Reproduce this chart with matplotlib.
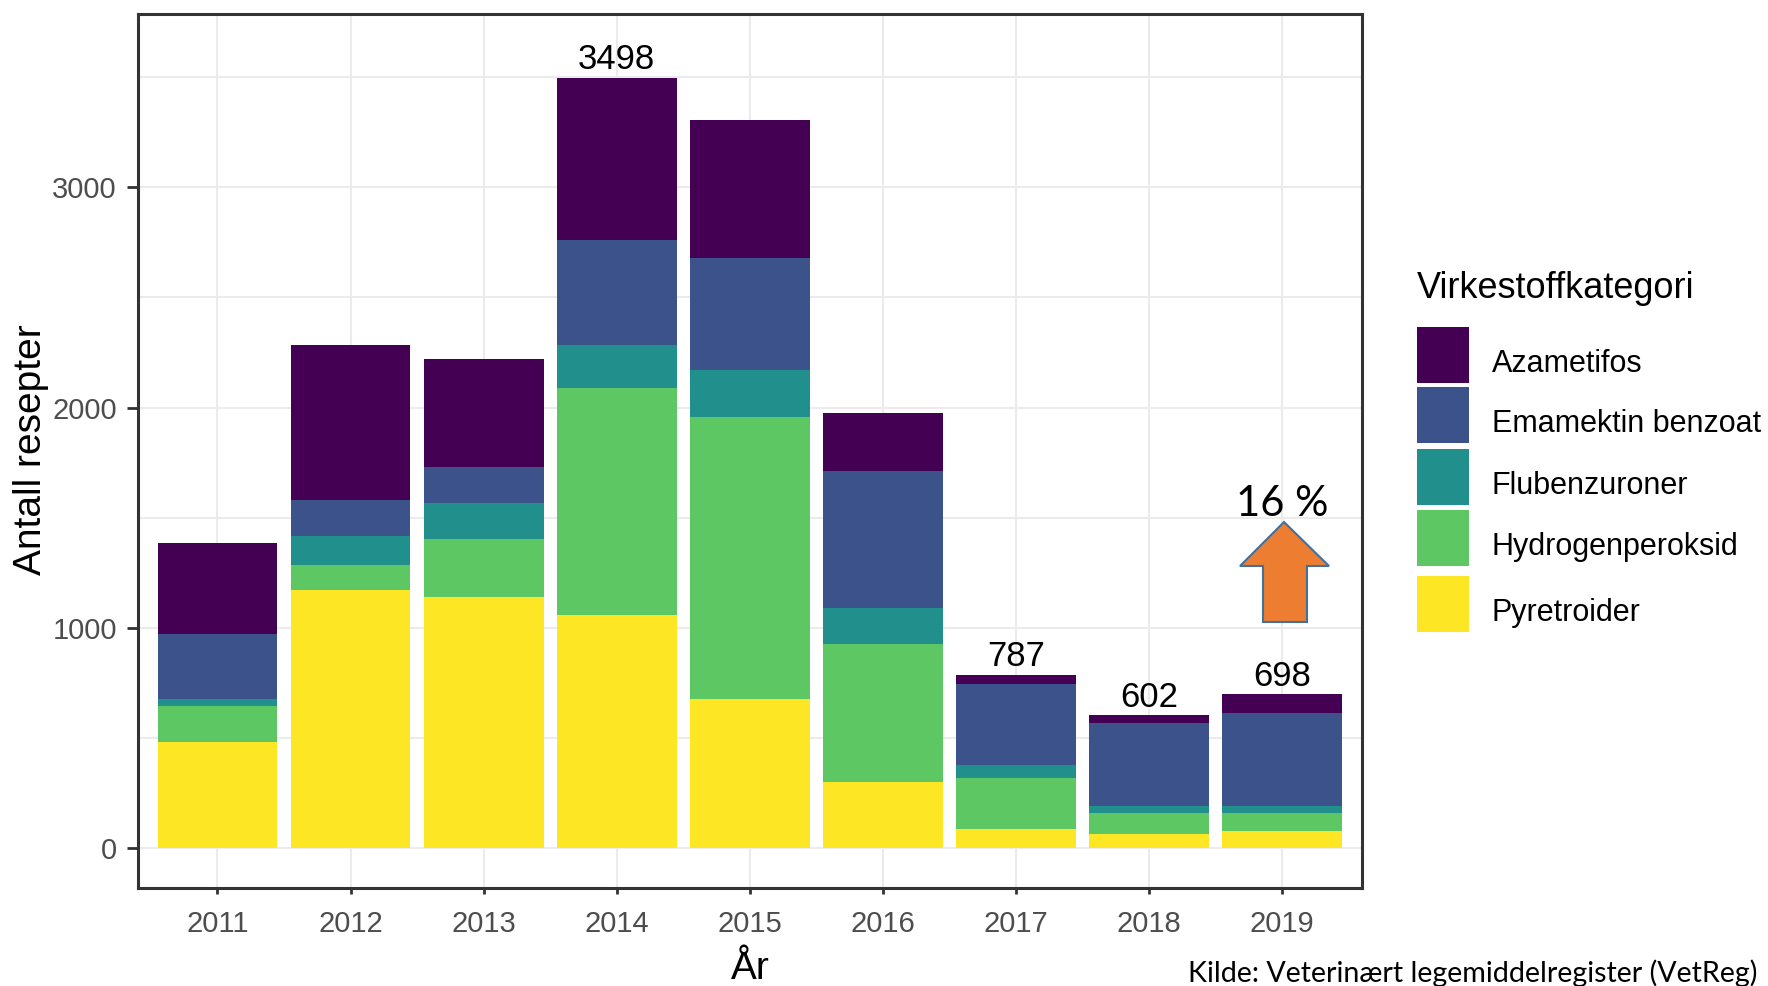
import matplotlib
matplotlib.use("Agg")
import matplotlib.pyplot as plt
from matplotlib.patches import Rectangle, Polygon
import numpy as np

# ---- data ----
years = ["2011", "2012", "2013", "2014", "2015", "2016", "2017", "2018", "2019"]
categories = ["Azametifos", "Emamektin benzoat", "Flubenzuroner", "Hydrogenperoksid", "Pyretroider"]
pyretroider = [483, 1170, 1139, 1057, 678, 302, 85, 63, 78]
hydrogenperoksid = [162, 115, 263, 1032, 1280, 624, 231, 97, 82]
flubenzuroner = [33, 130, 163, 195, 213, 164, 63, 30, 31]
emamektin_benzoat = [294, 164, 163, 476, 507, 621, 366, 379, 420]
azametifos = [412, 706, 493, 738, 626, 262, 42, 33, 87]
labelled_years = ["2014", "2017", "2018", "2019"]
colors = ["#440154", "#3B528B", "#21908C", "#5DC863", "#FDE725"]
y_ticks = [0, 1000, 2000, 3000]
change_text = "16 %"
source_text = "Kilde: Veterinært legemiddelregister (VetReg)"

W, H = 1768, 986
fig = plt.figure(figsize=(W / 100, H / 100), dpi=100)
fig.patch.set_facecolor("white")

def fx(px):
    return px / W

def fy(py):
    return 1 - py / H

ax = fig.add_axes([fx(137.6), fy(887.5), fx(1362) - fx(137.6), fy(13.5) - fy(887.5)])

FONT = "Liberation Sans"
x = np.arange(len(years))
stack_bottom_to_top = [pyretroider, hydrogenperoksid, flubenzuroner, emamektin_benzoat, azametifos]
stack_colors = colors[::-1]
bottom = np.zeros(len(years))
for vals, col in zip(stack_bottom_to_top, stack_colors):
    vals = np.array(vals, dtype=float)
    ax.bar(x, vals, width=0.9, bottom=bottom, color=col, linewidth=0, zorder=2)
    bottom += vals
totals = bottom

for i, yr in enumerate(years):
    if yr in labelled_years:
        ax.annotate(f"{int(round(totals[i]))}", (x[i], totals[i]), xytext=(0, 1),
                    textcoords="offset points", ha="center", va="bottom",
                    fontsize=25, family=FONT, color="black", zorder=3)

ax.set_xlim(-0.6, len(years) - 1 + 0.6)
ax.set_ylim(-179, 3789)
ax.set_xticks(x)
ax.set_xticklabels(years)
ax.set_yticks(y_ticks)
ax.set_yticks([500, 1500, 2500, 3500], minor=True)
ax.grid(True, which="major", color="#EBEBEB", linewidth=1.5, zorder=0)
ax.grid(True, which="minor", axis="y", color="#EBEBEB", linewidth=1.5, zorder=0)
ax.set_axisbelow(True)
for s in ax.spines.values():
    s.set_color("#333333")
    s.set_linewidth(2.2)
ax.tick_params(axis="y", which="major", length=8, width=2, color="#333333", pad=7,
               labelsize=21, labelcolor="#4D4D4D")
ax.tick_params(axis="x", which="major", length=4, width=2, color="#333333", pad=12,
               labelsize=21, labelcolor="#4D4D4D")
ax.tick_params(axis="y", which="minor", length=0)
for lab in ax.get_xticklabels() + ax.get_yticklabels():
    lab.set_family(FONT)

# axis titles
fig.text(fx(750), fy(979), "År", ha="center", va="baseline", fontsize=28, family=FONT, color="black")
fig.text(fx(31), fy(450), "Antall resepter", ha="center", va="center", rotation=90,
         fontsize=28, family=FONT, color="black")

# legend (manual)
fig.text(fx(1417), fy(289), "Virkestoffkategori", ha="left", va="center", fontsize=26,
         family=FONT, color="black")
key_tops = [327, 387, 449, 510, 576]
key_h = 56
for top, cat, col in zip(key_tops, categories, colors):
    fig.add_artist(Rectangle((fx(1417), fy(top + key_h)), fx(52), key_h / H,
                             transform=fig.transFigure, facecolor=col, edgecolor="none"))
    fig.text(fx(1492), fy(top + key_h / 2 + 9), cat, ha="left", va="center", fontsize=22,
             family=FONT, color="black")

# annotation arrow and change text
arrow_pts = [(1284, 522), (1329, 566), (1307, 566), (1307, 622), (1263, 622), (1263, 566), (1240, 566)]
fig.add_artist(Polygon([(fx(px), fy(py)) for px, py in arrow_pts], closed=True,
                       transform=fig.transFigure, facecolor="#ED7D31", edgecolor="#41719C",
                       linewidth=1.5))
fig.text(fx(1282), fy(516), change_text, ha="center", va="baseline", fontsize=30,
         family="Lato", color="black")

fig.text(fx(1188), fy(982), source_text, ha="left", va="baseline", fontsize=20.6,
         family="Lato", color="black")

fig.savefig("out.png", dpi=100, facecolor="white")
